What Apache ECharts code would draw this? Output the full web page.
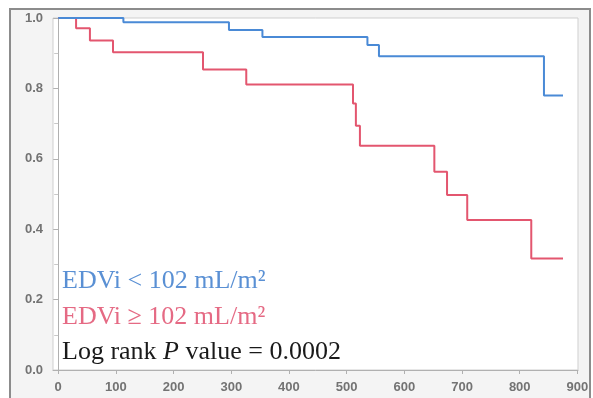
<!DOCTYPE html>
<html>
<head>
<meta charset="utf-8">
<script src="https://cdn.jsdelivr.net/npm/echarts@6/dist/echarts.min.js"></script>
<style>html,body{margin:0;padding:0;background:#fff;}#c{width:593px;height:398px;}</style>
</head>
<body>
<div id="c"></div>
<script>
// Kaplan-Meier step data
const lowTimes = [0, 113, 296, 354, 536, 556, 842, 875];
const lowSurv  = [1.0, 0.988, 0.966, 0.946, 0.923, 0.891, 0.78, 0.78];
const highTimes = [0, 31, 55, 95, 251, 326, 511, 516, 523, 652, 674, 709, 820, 875];
const highSurv  = [1.0, 0.971, 0.936, 0.903, 0.854, 0.811, 0.757, 0.694, 0.637, 0.563, 0.497, 0.426, 0.317, 0.317];
const xTicks = [0, 100, 200, 300, 400, 500, 600, 700, 800, 900];
const labelLow = 'EDVi < 102 mL/m²';
const labelHigh = 'EDVi ≥ 102 mL/m²';
const pText = '0.0002';

const blue = '#4a8ad6';
const red = '#e3566f';

const chart = echarts.init(document.getElementById('c'), null, {renderer: 'canvas'});
const zip = (a, b) => a.map((v, i) => [v, b[i]]);
const labelFont = {color: '#737373', fontSize: 13, fontWeight: 'bold', fontFamily: 'Liberation Sans, Arial, sans-serif'};

chart.setOption({
  backgroundColor: '#ffffff',
  animation: false,
  graphic: [
    {type: 'rect', z: -10, shape: {x: 10, y: 9, width: 580, height: 400},
     style: {fill: '#f4f4f4', stroke: '#8c8c8c', lineWidth: 2}},
    {type: 'text', z: 100, left: 62, top: 268,
     style: {text: labelLow, fill: '#5a90d4', font: '26px "Liberation Serif", "Times New Roman", serif'}},
    {type: 'text', z: 100, left: 62, top: 304,
     style: {text: labelHigh, fill: '#e56a84', font: '26px "Liberation Serif", "Times New Roman", serif'}},
    {type: 'text', z: 100, left: 62, top: 339,
     style: {
       text: '{n|Log rank }{i|P}{n| value = ' + pText + '}',
       rich: {
         n: {fill: '#1a1a1a', font: '26px "Liberation Serif", "Times New Roman", serif'},
         i: {fill: '#1a1a1a', font: 'italic 26px "Liberation Serif", "Times New Roman", serif'}
       }
     }}
  ],
  grid: {left: 53, right: 15, top: 18, bottom: 28, show: true, backgroundColor: '#ffffff', borderColor: '#cfcfcf', borderWidth: 1},
  xAxis: {
    type: 'value', min: -9, max: 901,
    axisLine: {show: true, lineStyle: {color: '#b0b0b0'}},
    axisTick: {show: true, length: 4, customValues: xTicks, lineStyle: {color: '#b0b0b0'}},
    axisLabel: Object.assign({margin: 11, customValues: xTicks}, labelFont),
    splitLine: {show: false}
  },
  yAxis: {
    type: 'value', min: 0, max: 1, interval: 0.2,
    axisLine: {show: true, lineStyle: {color: '#b0b0b0'}},
    axisTick: {show: true, length: 5, lineStyle: {color: '#b0b0b0'}},
    minorTick: {show: true, splitNumber: 2, length: 4, lineStyle: {color: '#c8c8c8'}},
    axisLabel: Object.assign({margin: 10, formatter: v => v.toFixed(1)}, labelFont),
    splitLine: {show: false}
  },
  series: [
    {type: 'line', step: 'end', data: zip(lowTimes, lowSurv), symbol: 'none', clip: false,
     lineStyle: {color: blue, width: 2}, z: 5},
    {type: 'line', step: 'end', data: zip(highTimes, highSurv), symbol: 'none', clip: false,
     lineStyle: {color: red, width: 2}, z: 4}
  ]
});
</script>
</body>
</html>
